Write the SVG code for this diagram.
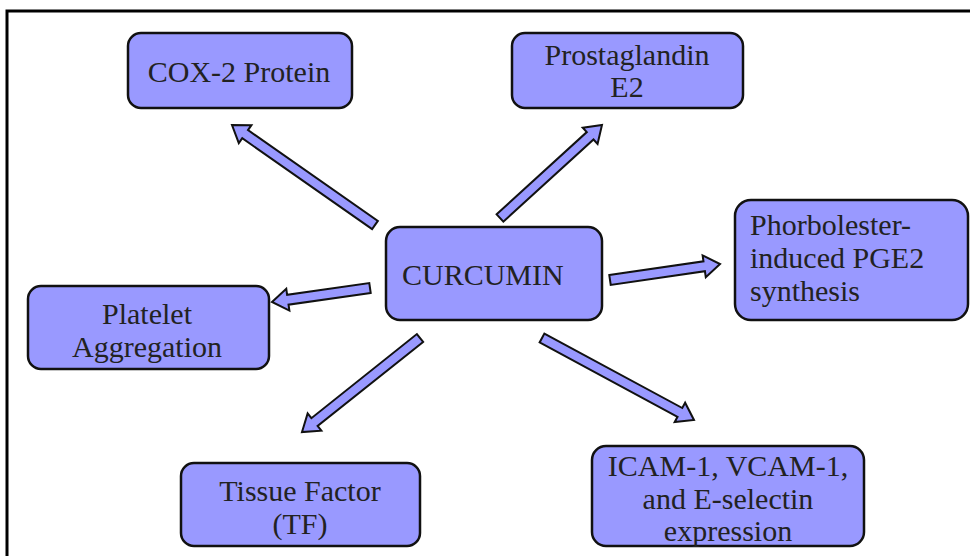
<svg xmlns="http://www.w3.org/2000/svg" width="970" height="556" viewBox="0 0 970 556">
<style>
.box{fill:#9999ff;stroke:#111;stroke-width:2.5}
.arr{fill:#9999ff;stroke:#111;stroke-width:2;stroke-linejoin:miter}
text{font-family:"Liberation Serif","Times New Roman",serif;font-size:30px;fill:#222}
.c{text-anchor:middle}
</style>
<rect width="970" height="556" fill="#fff"/>
<path d="M7,556 V11 H970" fill="none" stroke="#000" stroke-width="3"/>
<g id="connectors">
<path class="arr" transform="translate(375,225) rotate(-145.03)" d="M0,-5 H158.5 V-11 L174.5,0 L158.5,11 V5 H0 Z"/>
<path class="arr" transform="translate(500,218) rotate(-42.36)" d="M0,-5 H122 V-11 L138,0 L122,11 V5 H0 Z"/>
<path class="arr" transform="translate(610,280) rotate(-8.28)" d="M0,-5 H95.2 V-11 L111.2,0 L95.2,11 V5 H0 Z"/>
<path class="arr" transform="translate(370,288) rotate(171.87)" d="M0,-5 H83 V-11 L99,0 L83,11 V5 H0 Z"/>
<path class="arr" transform="translate(420,338) rotate(141.45)" d="M0,-5 H134.9 V-11 L150.9,0 L134.9,11 V5 H0 Z"/>
<path class="arr" transform="translate(542,338) rotate(28.35)" d="M0,-5 H156.7 V-11 L172.7,0 L156.7,11 V5 H0 Z"/>
</g>
<g id="cox2">
<rect class="box" x="128" y="33" width="224" height="75" rx="13"/>
<text class="c" x="239" y="82">COX-2 Protein</text>
</g>
<g id="pge2">
<rect class="box" x="512" y="33" width="231" height="75" rx="13"/>
<text class="c" x="627" y="65">Prostaglandin</text>
<text class="c" x="627" y="97">E2</text>
</g>
<g id="curcumin">
<rect class="box" x="386" y="227" width="216" height="93" rx="14"/>
<text x="402" y="285">CURCUMIN</text>
</g>
<g id="phorbol">
<rect class="box" x="735" y="200" width="233" height="120" rx="16"/>
<text x="750" y="235">Phorbolester-</text>
<text x="750" y="268">induced PGE2</text>
<text x="750" y="301">synthesis</text>
</g>
<g id="platelet">
<rect class="box" x="28" y="286" width="241" height="83" rx="13"/>
<text class="c" x="147" y="324">Platelet</text>
<text class="c" x="147" y="357">Aggregation</text>
</g>
<g id="tissue">
<rect class="box" x="181" y="463" width="239" height="83" rx="13"/>
<text class="c" x="300" y="501">Tissue Factor</text>
<text class="c" x="300" y="534">(TF)</text>
</g>
<g id="icam">
<rect class="box" x="592" y="446" width="272" height="100" rx="14"/>
<text class="c" x="728" y="476">ICAM-1, VCAM-1,</text>
<text class="c" x="728" y="509">and E-selectin</text>
<text class="c" x="728" y="541">expression</text>
</g>
</svg>
